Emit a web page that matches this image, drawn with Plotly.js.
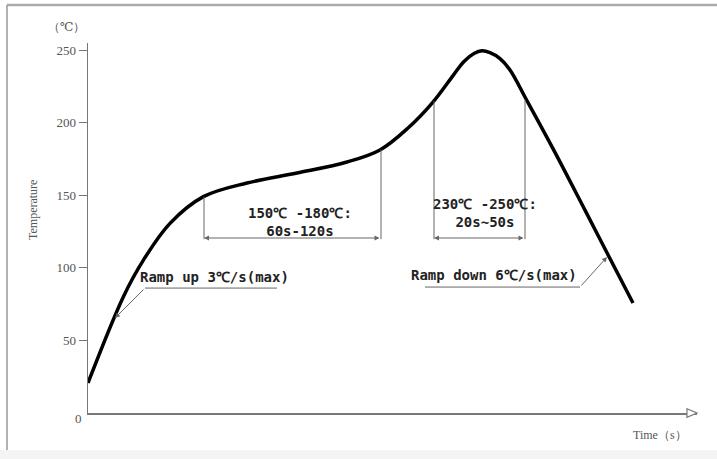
<!DOCTYPE html>
<html>
<head>
<meta charset="utf-8">
<script src="https://cdn.plot.ly/plotly-3.0.1.min.js"></script>
<style>
  html, body { margin: 0; padding: 0; background: #fff; }
  #chart { width: 717px; height: 459px; }
</style>
</head>
<body>
<div id="chart"></div>
<script>
// Reflow profile (time in s, temperature in ℃)
const timeS = [0, 17.7, 27.7, 41, 57.7, 79.5, 104.5, 129.5, 146, 160, 172.5, 182.7, 188, 193, 197, 201, 206, 211, 219.3, 232.7, 248.5, 259.5, 272.5];
const tempC = [20.7, 80.2, 105.4, 130.7, 149.1, 158.5, 165.4, 173, 181.3, 196.4, 214.3, 232.9, 242.3, 247.8, 249.6, 248.3, 244.2, 236.4, 215.7, 181.7, 139.8, 110.4, 75.8];

// Window markers (soak and peak)
const windowTimes = [58, 146.5, 173, 218.5];
const windowTemps = [149, 181.5, 215, 216];
const dimensionTemp = 120.6;

// Y tick values
const yTicks = [50, 100, 150, 200, 250];

// Texts
const soakLabel = ['150℃ -180℃:', '60s-120s'];
const peakLabel = ['230℃ -250℃:', '20s~50s'];
const rampUpLabel = 'Ramp up 3℃/s(max)';
const rampDownLabel = 'Ramp down 6℃/s(max)';
const yUnit = '（℃）';
const yTitle = 'Temperature';
const xTitle = 'Time（s）';
const originLabel = '0';

const thin = '#666';
const labelFont = { family: 'DejaVu Sans Mono, Liberation Mono, monospace', size: 14, color: '#222', weight: 'bold' };
const serifFont = { family: 'Liberation Serif, DejaVu Serif, serif', size: 12, color: '#555' };

const trace = {
  x: timeS, y: tempC, type: 'scatter', mode: 'lines',
  line: { color: '#000', width: 3.5, shape: 'spline', smoothing: 1 },
  hoverinfo: 'skip', showlegend: false
};

const shapes = [];
// vertical window lines
windowTimes.forEach((t, i) => {
  shapes.push({ type: 'line', xref: 'x', yref: 'y', x0: t, x1: t, y0: windowTemps[i], y1: dimensionTemp - 0.8,
    line: { color: thin, width: 1 } });
});
// leader underlines
shapes.push({ type: 'line', xref: 'x', yref: 'y', x0: 28.5, x1: 94.5, y0: 86.1, y1: 86.1, line: { color: thin, width: 1 } });
shapes.push({ type: 'line', xref: 'x', yref: 'y', x0: 168.5, x1: 246, y0: 86.8, y1: 86.8, line: { color: thin, width: 1 } });
// x-axis hollow arrowhead
shapes.push({ type: 'path', xref: 'paper', yref: 'paper', path: 'M 0.9835,0.0115 L 1,0 L 0.9835,-0.0115 Z',
  fillcolor: '#fff', line: { color: '#777', width: 1.2 } });
// frame
shapes.push({ type: 'line', xref: 'paper', yref: 'paper', x0: -0.133, x1: 1.04, y0: 1.1027, y1: 1.1027, line: { color: '#aaa', width: 2.5 } });
shapes.push({ type: 'line', xref: 'paper', yref: 'paper', x0: -0.133, x1: -0.133, y0: 1.1027, y1: -0.1, line: { color: '#999', width: 1.5 } });
shapes.push({ type: 'rect', xref: 'paper', yref: 'paper', x0: -0.2, x1: 1.1, y0: -0.1, y1: -0.2, fillcolor: '#f4f4f4', line: { width: 0 }, layer: 'below' });

const center = { xanchor: 'center', yanchor: 'middle', showarrow: false };
const annotations = [
  // dimension arrows
  { x: windowTimes[0], y: dimensionTemp, ax: windowTimes[1], ay: dimensionTemp, axref: 'x', ayref: 'y', xref: 'x', yref: 'y',
    text: '', showarrow: true, arrowside: 'end+start', arrowhead: 2, arrowsize: 1, arrowwidth: 1, arrowcolor: thin },
  { x: windowTimes[2], y: dimensionTemp, ax: windowTimes[3], ay: dimensionTemp, axref: 'x', ayref: 'y', xref: 'x', yref: 'y',
    text: '', showarrow: true, arrowside: 'end+start', arrowhead: 2, arrowsize: 1, arrowwidth: 1, arrowcolor: thin },
  // leader arrows
  { x: 13.5, y: 65.5, ax: 28.5, ay: 86.1, axref: 'x', ayref: 'y', xref: 'x', yref: 'y',
    text: '', showarrow: true, arrowhead: 2, arrowsize: 1, arrowwidth: 1, arrowcolor: thin },
  { x: 259.5, y: 107.5, ax: 246, ay: 86.8, axref: 'x', ayref: 'y', xref: 'x', yref: 'y',
    text: '', showarrow: true, arrowhead: 2, arrowsize: 1, arrowwidth: 1, arrowcolor: thin },
  // window texts
  Object.assign({ x: 106, y: 131.3, xref: 'x', yref: 'y', text: soakLabel.join('<br>'), font: labelFont }, center),
  Object.assign({ x: 198.5, y: 137.5, xref: 'x', yref: 'y', text: peakLabel.join('<br>'), font: labelFont }, center),
  // ramp texts
  Object.assign({ x: 63, y: 93.7, xref: 'x', yref: 'y', text: rampUpLabel, font: labelFont }, center),
  Object.assign({ x: 203, y: 95.1, xref: 'x', yref: 'y', text: rampDownLabel, font: labelFont }, center),
  // axis texts (paper coordinates)
  Object.assign({ x: -0.0345, y: 1.043, xref: 'paper', yref: 'paper', text: yUnit, font: Object.assign({}, serifFont, { size: 12 }) }, center),
  Object.assign({ x: -0.0903, y: 0.5486, xref: 'paper', yref: 'paper', text: yTitle, textangle: -90, font: serifFont }, center),
  Object.assign({ x: 0.939, y: -0.0595, xref: 'paper', yref: 'paper', text: xTitle, font: serifFont }, center),
  Object.assign({ x: -0.0164, y: -0.0162, xref: 'paper', yref: 'paper', text: originLabel, font: Object.assign({}, serifFont, { size: 13 }) }, center)
];

const layout = {
  width: 717, height: 459,
  margin: { l: 88, r: 20, t: 43, b: 46, pad: 0 },
  paper_bgcolor: '#fff', plot_bgcolor: '#fff',
  showlegend: false,
  xaxis: { range: [0, 304.5], showgrid: false, zeroline: false, showticklabels: false, ticks: '',
    showline: true, linecolor: '#777', linewidth: 1.5, fixedrange: true },
  yaxis: { range: [0, 255], showgrid: false, zeroline: false, tickvals: yTicks, ticktext: yTicks.map(String),
    ticks: 'outside', ticklen: 8, tickwidth: 1.2, tickcolor: '#777',
    tickfont: { family: 'Liberation Serif, DejaVu Serif, serif', size: 13, color: '#555' },
    showline: true, linecolor: '#777', linewidth: 1.5, fixedrange: true },
  shapes: shapes,
  annotations: annotations
};

Plotly.newPlot('chart', [trace], layout, { staticPlot: true, displayModeBar: false });
</script>
</body>
</html>
